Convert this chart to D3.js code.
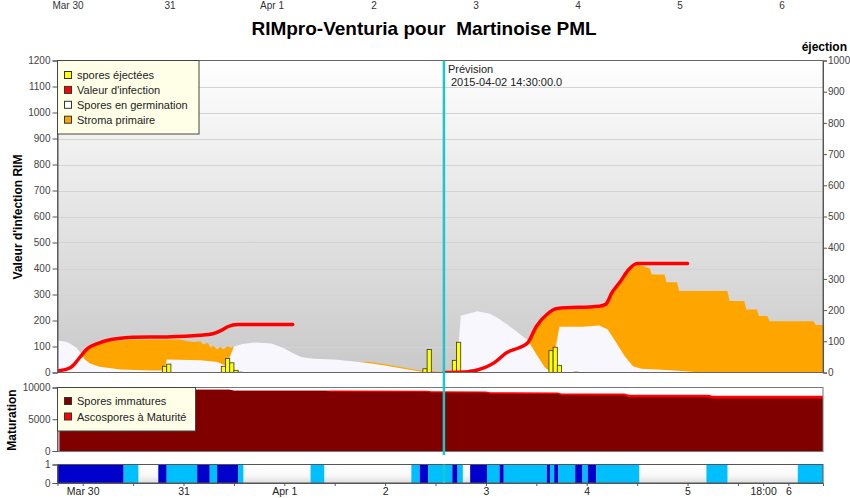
<!DOCTYPE html>
<html>
<head>
<meta charset="utf-8">
<script src="https://cdn.jsdelivr.net/npm/d3@7"></script>
<style>
  body { margin: 0; background: #fff; }
  svg { display: block; font-family: "Liberation Sans", Arial, sans-serif; }
</style>
</head>
<body>
<svg id="chart" width="850" height="498"></svg>
<script>
const width = 850;
const height = 498;

// all times are 2015, UTC, "MM-DD HH:MM"
const parse = s => d3.utcParse("%Y-%m-%d %H:%M")("2015-" + s);

// Valeur d'infection RIM (left axis) - observed part and forecast part
const infectionObserved = [
  ["03-29 18:00", 6], ["03-29 20:00", 12], ["03-29 21:00", 18], ["03-29 22:00", 32],
  ["03-29 23:00", 52], ["03-30 00:00", 72], ["03-30 01:00", 90], ["03-30 02:00", 101],
  ["03-30 03:00", 108], ["03-30 04:00", 114], ["03-30 06:00", 124], ["03-30 08:00", 130],
  ["03-30 12:00", 136], ["03-30 20:00", 137], ["03-31 04:00", 143], ["03-31 07:00", 149],
  ["03-31 09:00", 162], ["03-31 10:30", 176], ["03-31 13:00", 185], ["04-01 02:00", 185]
];
const infectionForecast = [
  ["04-02 14:00", 0], ["04-02 20:00", 3], ["04-02 22:00", 10], ["04-03 02:00", 38],
  ["04-03 05:00", 77], ["04-03 08:00", 96], ["04-03 10:00", 115], ["04-03 12:00", 177],
  ["04-03 14:30", 223], ["04-03 17:00", 246], ["04-04 03:00", 255], ["04-04 04:30", 262],
  ["04-04 06:00", 307], ["04-04 08:00", 350], ["04-04 10:00", 396], ["04-04 12:00", 419],
  ["04-05 00:00", 419]
];

// Spores en germination (left axis)
const germination = [
  ["03-29 18:00", 123], ["03-29 20:00", 118], ["03-29 21:00", 112], ["03-29 22:30", 95],
  ["03-29 23:30", 76], ["03-30 00:30", 50], ["03-30 01:45", 35], ["03-30 04:00", 22],
  ["03-30 09:00", 12], ["03-30 16:00", 8], ["03-30 19:30", 8], ["03-30 20:00", 50],
  ["03-31 04:00", 47], ["03-31 08:00", 40], ["03-31 10:00", 27], ["03-31 11:00", 60],
  ["03-31 12:00", 100], ["03-31 14:00", 110], ["03-31 17:00", 115], ["03-31 21:00", 112],
  ["04-01 00:00", 92], ["04-01 02:00", 75], ["04-01 04:00", 60], ["04-01 07:00", 53],
  ["04-01 12:00", 50], ["04-01 16:00", 43], ["04-01 20:00", 37], ["04-02 00:00", 27],
  ["04-02 04:00", 15], ["04-02 08:00", 5], ["04-02 10:00", 0], ["04-02 17:00", 0],
  ["04-02 18:00", 218], ["04-02 22:00", 236], ["04-03 01:00", 226], ["04-03 03:00", 208],
  ["04-03 07:00", 162], ["04-03 10:00", 123], ["04-03 12:00", 70], ["04-03 14:00", 20],
  ["04-03 15:30", 0], ["04-03 17:30", 176], ["04-03 23:00", 176], ["04-04 03:00", 181],
  ["04-04 05:00", 165], ["04-04 07:00", 115], ["04-04 09:00", 63], ["04-04 11:00", 24],
  ["04-04 13:00", 14], ["04-04 19:00", 10], ["04-05 01:00", 3], ["04-05 03:00", 0],
  ["04-06 08:15", 0]
];

// Stroma primaire, top of the band (stacked on germination), three episodes
const stromaMar30 = [
  ["03-29 23:30", 76], ["03-30 00:30", 80], ["03-30 01:45", 96], ["03-30 03:00", 105],
  ["03-30 04:00", 110], ["03-30 06:00", 117], ["03-30 08:00", 122], ["03-30 12:00", 126],
  ["03-30 23:00", 127], ["03-31 01:00", 120], ["03-31 02:30", 117], ["03-31 04:00", 120],
  ["03-31 04:45", 108], ["03-31 05:45", 114], ["03-31 06:30", 95], ["03-31 07:00", 104],
  ["03-31 08:00", 88], ["03-31 08:45", 99], ["03-31 09:30", 88], ["03-31 10:30", 101],
  ["03-31 11:15", 95], ["03-31 12:00", 100]
];
const stromaApr1 = [
  ["04-01 18:00", 40], ["04-01 20:00", 41], ["04-02 00:00", 32], ["04-02 04:00", 20],
  ["04-02 08:00", 9], ["04-02 12:00", 4], ["04-02 14:00", 0]
];
const stromaApr3 = [
  ["04-03 10:00", 118], ["04-03 12:00", 172], ["04-03 14:30", 218], ["04-03 17:00", 240],
  ["04-04 03:00", 248], ["04-04 04:30", 255], ["04-04 06:00", 300], ["04-04 08:00", 343],
  ["04-04 10:00", 390], ["04-04 12:00", 414], ["04-04 13:30", 409], ["04-04 15:00", 400],
  ["04-04 15:30", 377], ["04-04 18:30", 377], ["04-04 19:00", 347], ["04-04 21:30", 347],
  ["04-04 22:00", 313], ["04-05 09:30", 313], ["04-05 10:00", 275], ["04-05 13:30", 275],
  ["04-05 14:00", 242], ["04-05 16:30", 242], ["04-05 17:00", 217], ["04-05 19:00", 217],
  ["04-05 19:30", 197], ["04-06 06:00", 197], ["04-06 06:30", 183], ["04-06 08:15", 183]
];

// spores éjectées per hour (right axis), hour start
const ejections = [
  ["03-29 18:00", 6], ["03-30 19:00", 20], ["03-30 20:00", 27], ["03-31 09:00", 20],
  ["03-31 10:00", 45], ["03-31 11:00", 31], ["03-31 12:00", 7], ["03-31 13:00", 1],
  ["04-02 09:00", 12], ["04-02 10:00", 74], ["04-02 16:00", 39], ["04-02 17:00", 97],
  ["04-02 20:00", 8], ["04-02 21:00", 4], ["04-03 15:00", 70], ["04-03 16:00", 81],
  ["04-03 17:00", 23], ["04-03 21:00", 1]
];

// Maturation panel
const maturationTimes = [
  "03-29 18:30", "03-31 11:00", "03-31 12:00", "04-01 10:00", "04-01 11:00", "04-02 10:00",
  "04-02 11:00", "04-03 00:00", "04-03 01:00", "04-03 17:00", "04-03 18:00", "04-04 09:00",
  "04-04 10:00", "04-05 05:00", "04-05 06:00", "04-06 08:15"
];
const sporesImmatures = [9640, 9640, 9480, 9480, 9330, 9300, 9200, 9160, 9000, 8980, 8760, 8740, 8480, 8470, 8250, 8250];
const sporesMatures = [0, 0, 0, 0, 200, 200, 220, 220, 250, 250, 300, 300, 380, 380, 470, 470];

// leaf wetness strip: [start, end, level] 1 = wet, 2 = rain
const wetness = [
  ["03-29 18:00", "03-30 09:45", 2], ["03-30 09:45", "03-30 13:15", 1],
  ["03-30 18:00", "03-30 20:00", 2], ["03-30 20:00", "03-31 03:15", 1],
  ["03-31 03:15", "03-31 06:15", 2], ["03-31 06:15", "03-31 08:00", 1],
  ["03-31 08:00", "03-31 13:00", 2], ["03-31 13:00", "03-31 14:15", 1],
  ["04-01 06:15", "04-01 09:30", 1], ["04-02 06:15", "04-02 08:15", 1],
  ["04-02 08:15", "04-02 10:15", 2], ["04-02 10:15", "04-02 16:00", 1],
  ["04-02 16:00", "04-02 17:15", 2], ["04-02 17:15", "04-02 18:30", 1],
  ["04-02 20:15", "04-03 00:15", 2], ["04-03 00:15", "04-03 03:15", 1],
  ["04-03 03:15", "04-03 04:15", 2], ["04-03 04:15", "04-03 14:30", 1],
  ["04-03 14:30", "04-03 15:15", 2], ["04-03 15:15", "04-03 16:15", 1],
  ["04-03 16:15", "04-03 17:15", 2], ["04-03 17:15", "04-03 21:15", 1],
  ["04-03 21:15", "04-03 23:00", 2], ["04-03 23:00", "04-04 00:15", 1],
  ["04-04 00:15", "04-04 02:15", 2], ["04-04 02:15", "04-04 12:30", 1],
  ["04-05 04:30", "04-05 09:30", 1], ["04-06 02:15", "04-06 08:15", 1]
];

// ticks
const leftTicks = d3.range(0, 1201, 100);
const rightTicks = d3.range(0, 1001, 100);
const maturationTicks = [0, 5000, 10000];
const wetTicks = [0, 1];
const timeTicks = [
  ["03-30 00:00", "Mar 30"], ["03-30 12:00", ""], ["03-31 00:00", "31"], ["03-31 12:00", ""],
  ["04-01 00:00", "Apr 1"], ["04-01 12:00", ""], ["04-02 00:00", "2"], ["04-02 12:00", ""],
  ["04-03 00:00", "3"], ["04-03 12:00", ""], ["04-04 00:00", "4"], ["04-04 12:00", ""],
  ["04-05 00:00", "5"], ["04-05 12:00", ""], ["04-05 18:00", "18:00"], ["04-06 00:00", "6"]
];
// axis labels of the chart above
const topTicks = [
  ["03-30 00:00", "Mar 30"], ["03-31 00:00", "31"], ["04-01 00:00", "Apr 1"], ["04-02 00:00", "2"],
  ["04-03 00:00", "3"], ["04-04 00:00", "4"], ["04-05 00:00", "5"], ["04-06 00:00", "6"]
];
const forecastTime = "04-02 14:00";

const mainLegend = [
  ["spores éjectées", "#ffff00"], ["Valeur d'infection", "#ff0000"],
  ["Spores en germination", "#ffffff"], ["Stroma primaire", "#ffa500"]
];
const maturationLegend = [["Spores immatures", "#800000"], ["Ascospores à Maturité", "#ff0000"]];

// ---- layout ----
const plotLeft = 57.5, plotRight = 823;
const mainTop = 60.5, mainBottom = 372.5;
const matTop = 387.5, matBottom = 451.5;
const wetTop = 464.5, wetBottom = 483;

const x = d3.scaleUtc()
  .domain([parse("03-29 18:00"), parse("04-06 08:15")])
  .range([plotLeft, plotRight]);
const xTop = d3.scaleUtc()
  .domain([parse("03-30 00:00"), parse("04-06 00:00")])
  .range([68, 782]);
const yL = d3.scaleLinear().domain([0, 1200]).range([mainBottom, mainTop]);
const yR = d3.scaleLinear().domain([0, 1000]).range([mainBottom, mainTop]);
const yM = d3.scaleLinear().domain([0, 10000]).range([matBottom - 0.5, matTop]);
const yW = d3.scaleLinear().domain([0, 1]).range([wetBottom, wetTop]);

const svg = d3.select("#chart")
  .attr("width", width)
  .attr("height", height);

const defs = svg.append("defs");
const bg = defs.append("linearGradient").attr("id", "plotBg")
  .attr("x1", 0).attr("y1", 0).attr("x2", 0).attr("y2", 1);
bg.append("stop").attr("offset", "0%").attr("stop-color", "#ffffff");
bg.append("stop").attr("offset", "100%").attr("stop-color", "#c9c9c9");
const wetBg = defs.append("linearGradient").attr("id", "wetBg")
  .attr("x1", 0).attr("y1", 0).attr("x2", 0).attr("y2", 1);
wetBg.append("stop").attr("offset", "0%").attr("stop-color", "#ffffff");
wetBg.append("stop").attr("offset", "60%").attr("stop-color", "#f8f8f8");
wetBg.append("stop").attr("offset", "100%").attr("stop-color", "#dedede");

defs.append("clipPath").attr("id", "clipMain").append("rect")
  .attr("x", plotLeft).attr("y", mainTop).attr("width", plotRight - plotLeft).attr("height", mainBottom - mainTop);

const fmt = d3.format("d");

function styleAxis(g) {
  g.select(".domain").attr("stroke", "#555");
  g.selectAll(".tick line").attr("stroke", "#555");
  g.selectAll(".tick text").attr("fill", "#444").attr("font-size", 10)
    .attr("font-family", "'Liberation Sans', Arial, sans-serif");
}

// top labels (axis of the chart above)
svg.append("g").selectAll("text")
  .data(topTicks)
  .enter().append("text")
  .attr("x", d => xTop(parse(d[0])))
  .attr("y", 9)
  .attr("text-anchor", "middle")
  .attr("font-size", 10)
  .attr("fill", "#333")
  .text(d => d[1]);

// title
svg.append("text")
  .attr("x", 424).attr("y", 35)
  .attr("text-anchor", "middle")
  .attr("font-size", 19).attr("font-weight", "bold")
  .attr("fill", "#000")
  .style("white-space", "pre")
  .text("RIMpro-Venturia pour  Martinoise PML");

svg.append("text")
  .attr("x", 847).attr("y", 51)
  .attr("text-anchor", "end")
  .attr("font-size", 12).attr("font-weight", "bold")
  .text("éjection");

svg.append("text")
  .attr("transform", "translate(22,217) rotate(-90)")
  .attr("text-anchor", "middle")
  .attr("font-size", 12).attr("font-weight", "bold")
  .text("Valeur d'infection RIM");

svg.append("text")
  .attr("transform", "translate(16,420) rotate(-90)")
  .attr("text-anchor", "middle")
  .attr("font-size", 12).attr("font-weight", "bold")
  .text("Maturation");

// ---- main panel ----
svg.append("rect")
  .attr("x", plotLeft).attr("y", mainTop)
  .attr("width", plotRight - plotLeft).attr("height", mainBottom - mainTop)
  .attr("fill", "url(#plotBg)");

svg.append("g").selectAll("line")
  .data(leftTicks.filter(d => d > 0 && d < 1200))
  .enter().append("line")
  .attr("x1", plotLeft).attr("x2", plotRight)
  .attr("y1", d => Math.round(yL(d)) + 0.5).attr("y2", d => Math.round(yL(d)) + 0.5)
  .attr("stroke", "#d4d4d4");

const data = svg.append("g").attr("clip-path", "url(#clipMain)");

const areaTop = d3.area()
  .x(d => x(parse(d[0])))
  .y0(yL(0))
  .y1(d => yL(d[1]));

[stromaMar30, stromaApr1, stromaApr3].forEach(s => {
  data.append("path").datum(s).attr("d", areaTop).attr("fill", "#ffa500");
});
data.append("path").datum(germination).attr("d", areaTop).attr("fill", "#f7f7fd");

data.selectAll("rect.ejection")
  .data(ejections)
  .enter().append("rect")
  .attr("class", "ejection")
  .attr("x", d => x(parse(d[0])))
  .attr("width", d => x(d3.utcHour.offset(parse(d[0]), 1)) - x(parse(d[0])))
  .attr("y", d => yR(d[1]))
  .attr("height", d => yR(0) - yR(d[1]))
  .attr("fill", "#ffff00")
  .attr("stroke", "#333")
  .attr("stroke-width", 0.8);

const infLine = d3.line()
  .x(d => x(parse(d[0])))
  .y(d => yL(d[1]))
  .curve(d3.curveMonotoneX);
[infectionObserved, infectionForecast].forEach(s => {
  data.append("path").datum(s).attr("d", infLine)
    .attr("fill", "none").attr("stroke", "#ff0000")
    .attr("stroke-width", 3.5).attr("stroke-linecap", "round").attr("stroke-linejoin", "round");
});

svg.append("rect")
  .attr("x", plotLeft).attr("y", mainTop)
  .attr("width", plotRight - plotLeft).attr("height", mainBottom - mainTop)
  .attr("fill", "none").attr("stroke", "#666");

svg.append("g").attr("transform", `translate(${plotLeft},0)`)
  .call(d3.axisLeft(yL).tickValues(leftTicks).tickFormat(fmt).tickSize(5).tickPadding(2))
  .call(styleAxis);
svg.append("g").attr("transform", `translate(${plotRight},0)`)
  .call(d3.axisRight(yR).tickValues(rightTicks).tickFormat(fmt).tickSize(4).tickPadding(1))
  .call(styleAxis);

// ---- maturation panel ----
svg.append("rect")
  .attr("x", plotLeft).attr("y", matTop)
  .attr("width", plotRight - plotLeft).attr("height", matBottom - matTop)
  .attr("fill", "#fff");

const mat = maturationTimes.map((t, i) => ({ t: parse(t), imm: sporesImmatures[i], mat: sporesMatures[i] }));
svg.append("path").datum(mat)
  .attr("d", d3.area().x(d => x(d.t)).y0(yM(0)).y1(d => yM(d.imm + d.mat)))
  .attr("fill", "#ff0000");
svg.append("path").datum(mat)
  .attr("d", d3.area().x(d => x(d.t)).y0(yM(0)).y1(d => yM(d.imm)))
  .attr("fill", "#800000");

svg.append("rect")
  .attr("x", plotLeft).attr("y", matTop)
  .attr("width", plotRight - plotLeft).attr("height", matBottom - matTop)
  .attr("fill", "none").attr("stroke", "#777");
svg.append("g").attr("transform", `translate(${plotLeft},0)`)
  .call(d3.axisLeft(yM).tickValues(maturationTicks).tickFormat(fmt).tickSize(5).tickPadding(2))
  .call(styleAxis);

// ---- wetness strip ----
svg.append("rect")
  .attr("x", plotLeft).attr("y", wetTop)
  .attr("width", plotRight - plotLeft).attr("height", wetBottom - wetTop)
  .attr("fill", "url(#wetBg)");
svg.append("g").selectAll("rect")
  .data(wetness)
  .enter().append("rect")
  .attr("x", d => x(parse(d[0])))
  .attr("width", d => x(parse(d[1])) - x(parse(d[0])))
  .attr("y", yW(1))
  .attr("height", yW(0) - yW(1))
  .attr("fill", d => d[2] === 2 ? "#0000cd" : "#00bfff");
svg.append("rect")
  .attr("x", plotLeft).attr("y", wetTop)
  .attr("width", plotRight - plotLeft).attr("height", wetBottom - wetTop)
  .attr("fill", "none").attr("stroke", "#555");
svg.append("g").attr("transform", `translate(${plotLeft},0)`)
  .call(d3.axisLeft(yW).tickValues(wetTicks).tickFormat(fmt).tickSize(5).tickPadding(2))
  .call(styleAxis);

const tickLabel = new Map(timeTicks.map(d => [+parse(d[0]), d[1]]));
const bottomAxis = svg.append("g").attr("transform", `translate(0,${wetBottom})`)
  .call(d3.axisBottom(x)
    .tickValues(timeTicks.map(d => parse(d[0])))
    .tickFormat(d => tickLabel.get(+d))
    .tickSize(3).tickPadding(2))
  .call(styleAxis);
bottomAxis.selectAll(".tick text").attr("fill", "#222").attr("font-size", 10.5);

// ---- forecast marker ----
const xf = x(parse(forecastTime));
svg.append("line")
  .attr("x1", xf).attr("x2", xf).attr("y1", mainTop).attr("y2", 455)
  .attr("stroke", "#1cc6cd").attr("stroke-width", 2.5);
svg.append("line")
  .attr("x1", xf).attr("x2", xf).attr("y1", wetTop).attr("y2", wetBottom)
  .attr("stroke", "#1cc6cd").attr("stroke-width", 2.5);
svg.append("text")
  .attr("x", xf + 4).attr("y", 73)
  .attr("font-size", 11).attr("fill", "#222")
  .text("Prévision");
svg.append("text")
  .attr("x", xf + 7).attr("y", 86)
  .attr("font-size", 11).attr("fill", "#222")
  .text("2015-04-02 14:30:00.0");

// ---- legends ----
function legend(items, bx, by, bw, bh, firstY, step) {
  const g = svg.append("g");
  g.append("rect")
    .attr("x", bx).attr("y", by).attr("width", bw).attr("height", bh)
    .attr("fill", "#ffffe8").attr("stroke", "#444");
  const it = g.selectAll("g.item")
    .data(items)
    .enter().append("g")
    .attr("class", "item")
    .attr("transform", (d, i) => `translate(0,${firstY + i * step})`);
  it.append("rect")
    .attr("x", 64.5).attr("y", -3.5).attr("width", 7).attr("height", 7)
    .attr("fill", d => d[1]).attr("stroke", "#333");
  it.append("text")
    .attr("x", 77).attr("y", 4)
    .attr("font-size", 11).attr("fill", "#222")
    .text(d => d[0]);
}
legend(mainLegend, 57.5, 60.5, 141.5, 73.5, 75, 14.9);
legend(maturationLegend, 57.5, 387.5, 138, 43.5, 401, 15.5);
</script>
</body>
</html>
